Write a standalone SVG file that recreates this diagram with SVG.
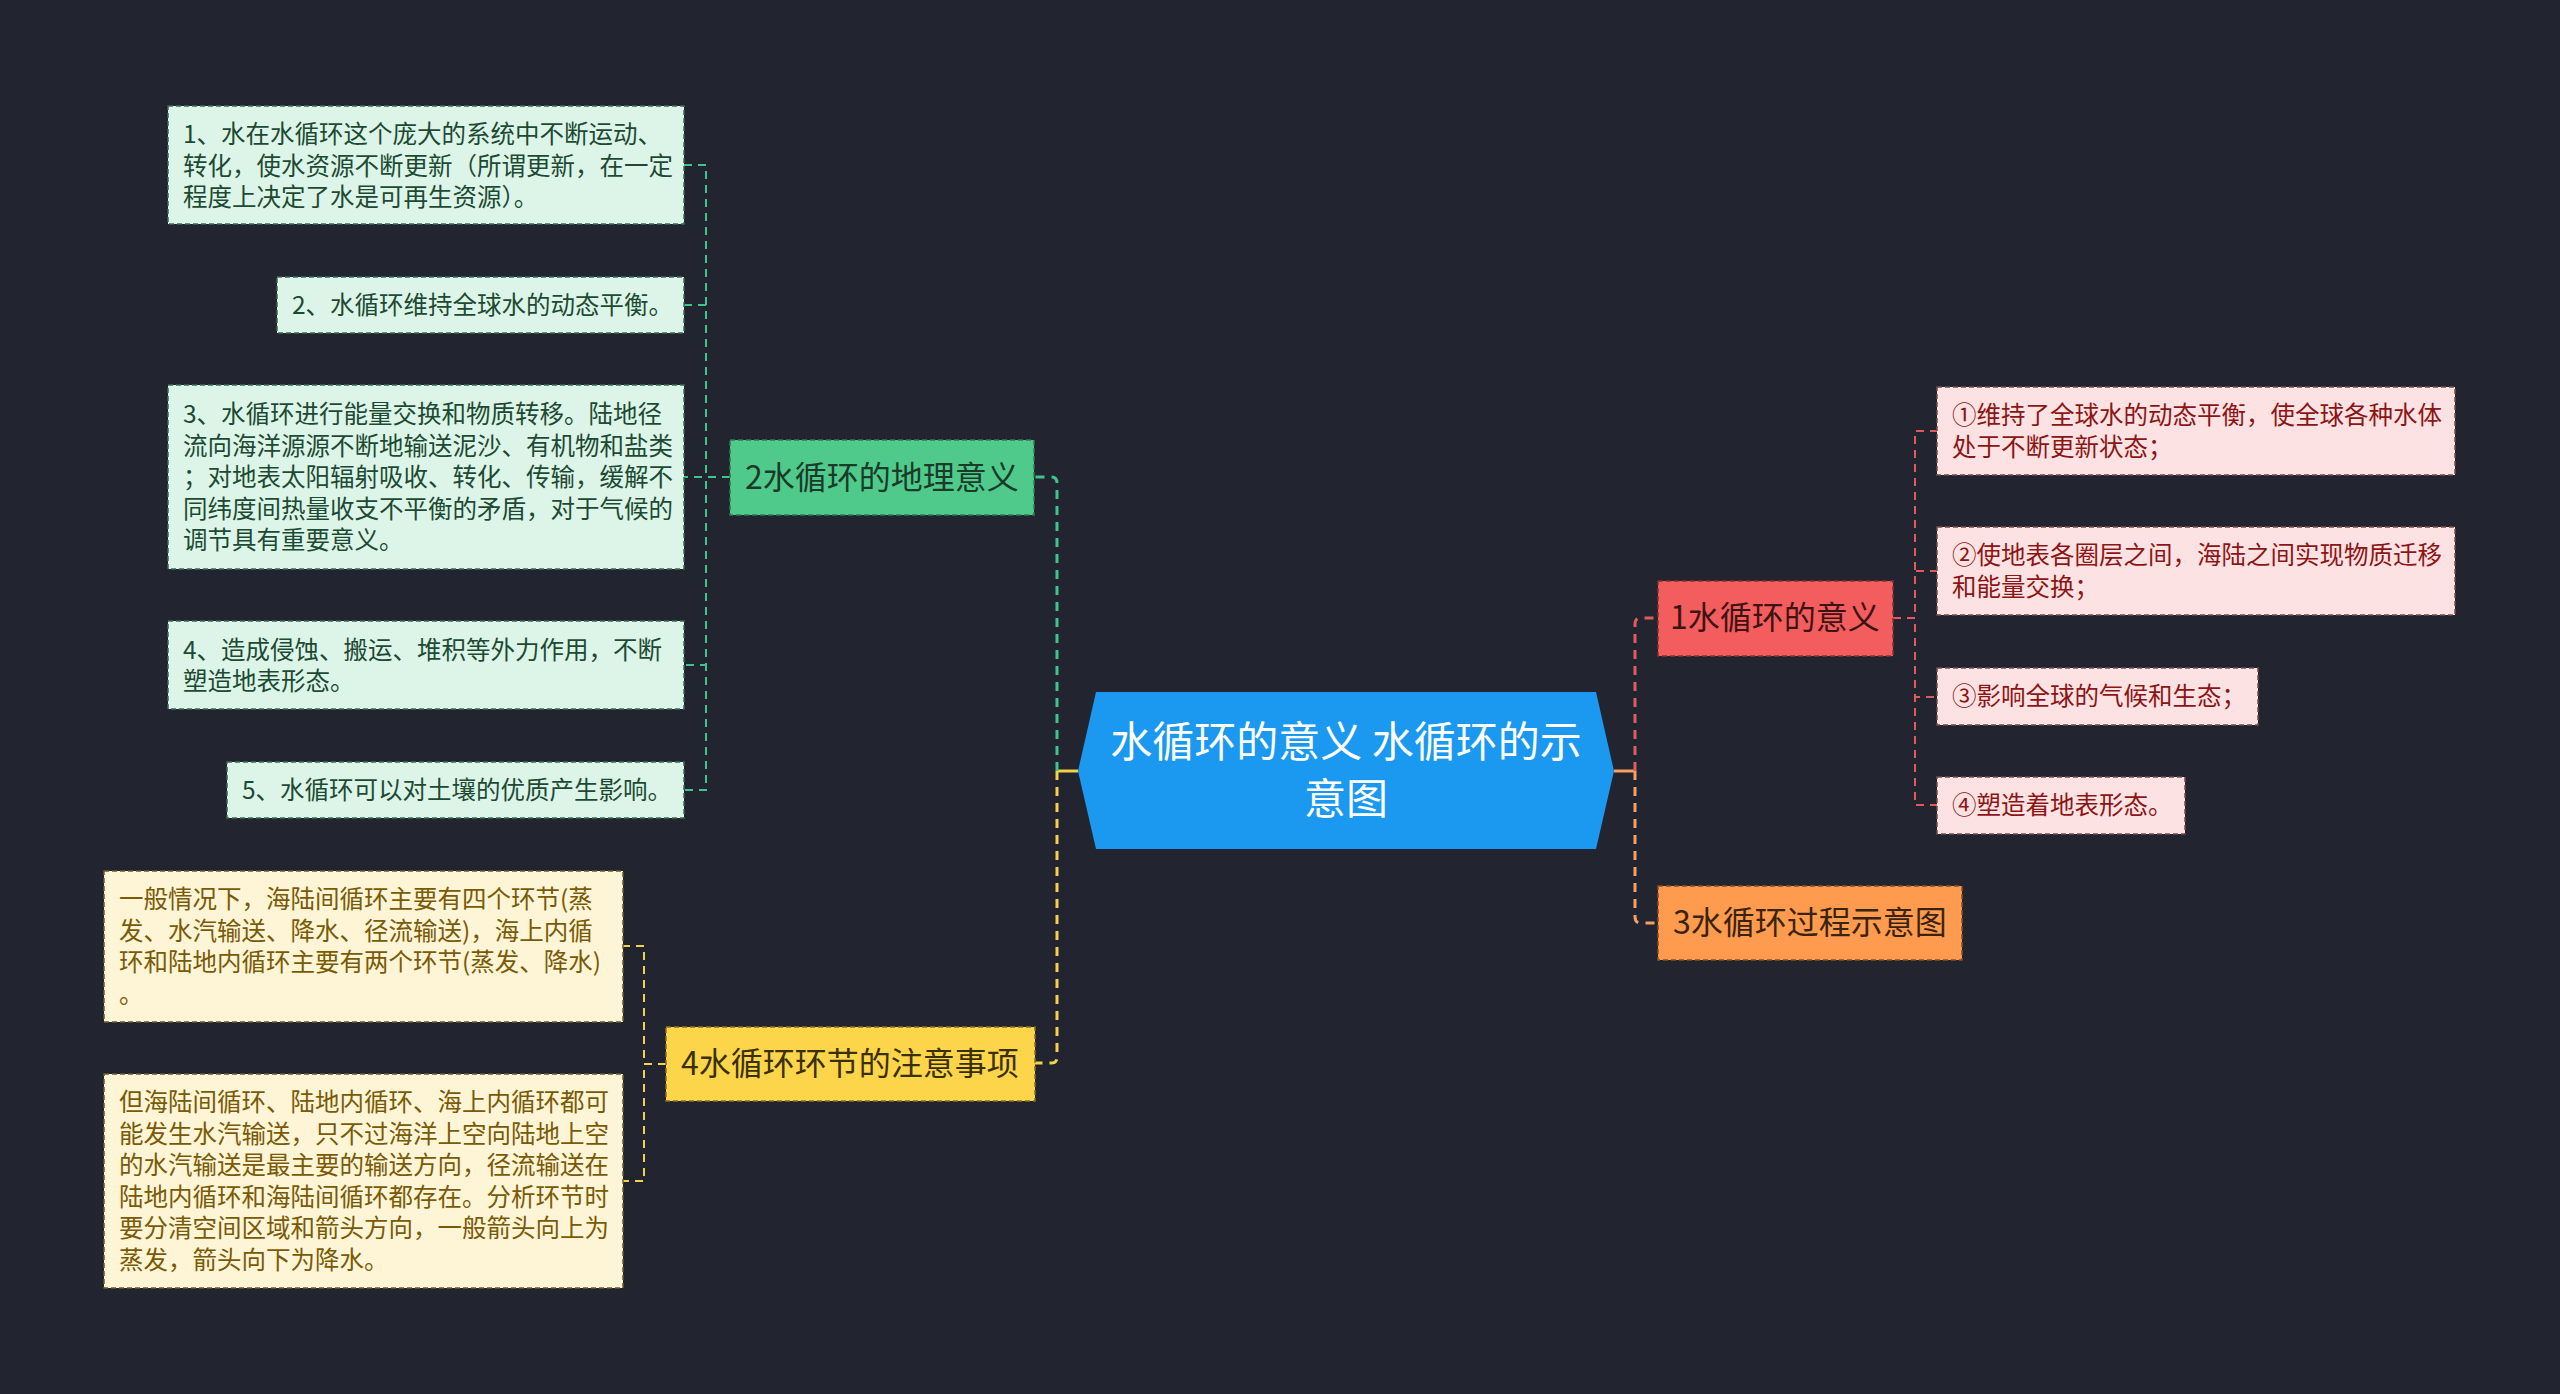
<svg xmlns="http://www.w3.org/2000/svg" width="2560" height="1394" viewBox="0 0 2560 1394">
<style>
text{font-family:"Noto Sans CJK SC","Noto Sans",sans-serif;}
.nt{font-size:24.5px;}
.bt{font-size:32px;text-anchor:middle;}
.g .box{fill:#dcf5e8;stroke:#3d6b52;stroke-width:1.5;stroke-dasharray:5 3;}
.g text{fill:#1d4a33;}
.y .box{fill:#fdf5d6;stroke:#6b5a2a;stroke-width:1.5;stroke-dasharray:5 3;}
.y text{fill:#7a5a06;}
.r .box{fill:#fde2e3;stroke:#7a4a4a;stroke-width:1.5;stroke-dasharray:5 3;}
.r text{fill:#8c1515;}
.mb{stroke-width:1.5;stroke-dasharray:5 3;}
.c{fill:none;stroke-width:3;stroke-dasharray:9 7;}
.s{fill:none;stroke-width:2;stroke-dasharray:8 6;}
.cg{stroke:#3fc48c;}
.cy{stroke:#f2d24a;}
.cr{stroke:#e05a5e;}
.co{stroke:#f5a062;}
</style>
<rect x="0" y="0" width="2560" height="1394" fill="#22252f"/>

<g id="connectors">
  <path d="M1078 771 H1057" fill="none" stroke="#f2d24a" stroke-width="3"/>
  <path d="M1614 771 H1635" fill="none" stroke="#f5a062" stroke-width="3"/>
  <path class="c cg" d="M1057 771 V483 Q1057 477 1051 477 H1034"/>
  <path class="c cy" d="M1057 771 V1057 Q1057 1063 1051 1063 H1035"/>
  <path class="c cr" d="M1635 771 V624 Q1635 618 1641 618 H1658"/>
  <path class="c co" d="M1635 771 V917 Q1635 923 1641 923 H1658"/>
  <path class="s cg" d="M730 477 H706 V165 H684"/>
  <path class="s cg" d="M730 477 H706 V305 H684"/>
  <path class="s cg" d="M730 477 H684"/>
  <path class="s cg" d="M730 477 H706 V665 H684"/>
  <path class="s cg" d="M730 477 H706 V790 H684"/>
  <path class="s cy" d="M666 1064 H644 V946 H623"/>
  <path class="s cy" d="M666 1064 H644 V1181 H623"/>
  <path class="s cr" d="M1893 618 H1915 V431 H1937"/>
  <path class="s cr" d="M1893 618 H1915 V571 H1937"/>
  <path class="s cr" d="M1893 618 H1915 V697 H1937"/>
  <path class="s cr" d="M1893 618 H1915 V805 H1937"/>
</g>

<g id="center">
  <polygon points="1096,692 1596,692 1614,771 1596,849 1096,849 1078,771" fill="#1b99f0"/>
  <text x="1346" y="757" font-size="42" fill="#ffffff" text-anchor="middle">水循环的意义 水循环的示</text>
  <text x="1346" y="814" font-size="42" fill="#ffffff" text-anchor="middle">意图</text>
</g>

<g id="node-2">
  <rect class="mb" x="730" y="440" width="304" height="75" fill="#4fca8a" stroke="#2f7a55"/>
  <text class="bt" x="882" y="489" fill="#1b3b2a">2水循环的地理意义</text>
</g>
<g id="node-4">
  <rect class="mb" x="666" y="1027" width="369" height="74" fill="#fdd54a" stroke="#8a7020"/>
  <text class="bt" x="850" y="1075" fill="#3a3008">4水循环环节的注意事项</text>
</g>
<g id="node-1">
  <rect class="mb" x="1658" y="581" width="235" height="75" fill="#f45d5e" stroke="#8a3030"/>
  <text class="bt" x="1775" y="629" fill="#3d1414">1水循环的意义</text>
</g>
<g id="node-3">
  <rect class="mb" x="1658" y="886" width="304" height="74" fill="#fe9b4f" stroke="#8a5024"/>
  <text class="bt" x="1810" y="934" fill="#3a2410">3水循环过程示意图</text>
</g>

<g id="note-g1" class="g">
  <rect class="box" x="168" y="106" width="516" height="118"/>
  <text class="nt" x="183" y="143">1、水在水循环这个庞大的系统中不断运动、</text>
  <text class="nt" x="183" y="174.5">转化，使水资源不断更新（所谓更新，在一定</text>
  <text class="nt" x="183" y="206">程度上决定了水是可再生资源）。</text>
</g>
<g id="note-g2" class="g">
  <rect class="box" x="277" y="277" width="407" height="56"/>
  <text class="nt" x="292" y="314">2、水循环维持全球水的动态平衡。</text>
</g>
<g id="note-g3" class="g">
  <rect class="box" x="168" y="385" width="516" height="184"/>
  <text class="nt" x="183" y="423">3、水循环进行能量交换和物质转移。陆地径</text>
  <text class="nt" x="183" y="454.5">流向海洋源源不断地输送泥沙、有机物和盐类</text>
  <text class="nt" x="183" y="486">；对地表太阳辐射吸收、转化、传输，缓解不</text>
  <text class="nt" x="183" y="517.5">同纬度间热量收支不平衡的矛盾，对于气候的</text>
  <text class="nt" x="183" y="549">调节具有重要意义。</text>
</g>
<g id="note-g4" class="g">
  <rect class="box" x="168" y="621" width="516" height="88"/>
  <text class="nt" x="183" y="658.5">4、造成侵蚀、搬运、堆积等外力作用，不断</text>
  <text class="nt" x="183" y="690">塑造地表形态。</text>
</g>
<g id="note-g5" class="g">
  <rect class="box" x="227" y="762" width="457" height="56"/>
  <text class="nt" x="242" y="799">5、水循环可以对土壤的优质产生影响。</text>
</g>

<g id="note-y1" class="y">
  <rect class="box" x="104" y="871" width="519" height="151"/>
  <text class="nt" x="119" y="908">一般情况下，海陆间循环主要有四个环节(蒸</text>
  <text class="nt" x="119" y="939.5">发、水汽输送、降水、径流输送)，海上内循</text>
  <text class="nt" x="119" y="971">环和陆地内循环主要有两个环节(蒸发、降水)</text>
  <text class="nt" x="119" y="1002.5">。</text>
</g>
<g id="note-y2" class="y">
  <rect class="box" x="104" y="1074" width="519" height="214"/>
  <text class="nt" x="119" y="1111">但海陆间循环、陆地内循环、海上内循环都可</text>
  <text class="nt" x="119" y="1142.5">能发生水汽输送，只不过海洋上空向陆地上空</text>
  <text class="nt" x="119" y="1174">的水汽输送是最主要的输送方向，径流输送在</text>
  <text class="nt" x="119" y="1205.5">陆地内循环和海陆间循环都存在。分析环节时</text>
  <text class="nt" x="119" y="1237">要分清空间区域和箭头方向，一般箭头向上为</text>
  <text class="nt" x="119" y="1268.5">蒸发，箭头向下为降水。</text>
</g>

<g id="note-r1" class="r">
  <rect class="box" x="1937" y="387" width="518" height="88"/>
  <text class="nt" x="1952" y="424">①维持了全球水的动态平衡，使全球各种水体</text>
  <text class="nt" x="1952" y="455.5">处于不断更新状态；</text>
</g>
<g id="note-r2" class="r">
  <rect class="box" x="1937" y="527" width="518" height="88"/>
  <text class="nt" x="1952" y="564">②使地表各圈层之间，海陆之间实现物质迁移</text>
  <text class="nt" x="1952" y="595.5">和能量交换；</text>
</g>
<g id="note-r3" class="r">
  <rect class="box" x="1937" y="668" width="321" height="57"/>
  <text class="nt" x="1952" y="705">③影响全球的气候和生态；</text>
</g>
<g id="note-r4" class="r">
  <rect class="box" x="1937" y="777" width="248" height="57"/>
  <text class="nt" x="1952" y="814">④塑造着地表形态。</text>
</g>
</svg>
